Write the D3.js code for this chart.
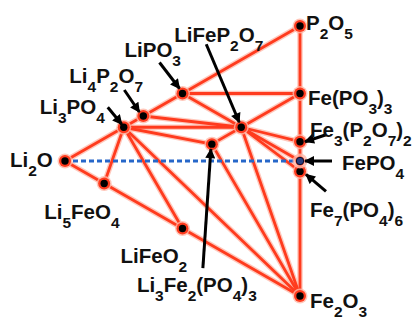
<!DOCTYPE html>
<html lang="en">
<head>
    <meta charset="UTF-8">
    <title>Li2O - Fe2O3 - P2O5 phase diagram</title>
    <script src="https://cdnjs.cloudflare.com/ajax/libs/d3/7.8.5/d3.min.js"></script>
    <style>
        body {
            margin: 0;
            background: #fff;
        }
        svg {
            display: block;
        }
        .tie {
            fill: none;
            stroke-linecap: round;
        }
        .label {
            font-family: "Liberation Sans", Arial, sans-serif;
            font-weight: bold;
            font-size: 20.5px;
            fill: #111;
        }
    </style>
</head>
<body>
    <svg width="416" height="320"></svg>
    <script>
        // compounds as moles of Li2O, Fe2O3, P2O5
        const compounds = ["Li2O", "Li5FeO4", "LiFeO2", "Fe2O3", "Fe7(PO4)6", "FePO4", "Fe3(P2O7)2",
            "Fe(PO3)3", "P2O5", "LiPO3", "Li4P2O7", "Li3PO4", "LiFeP2O7", "Li3Fe2(PO4)3"];
        const li2o  = [1, 2.5, 0.5, 0, 0,   0,   0,   0,   0, 0.5, 2, 1.5, 0.5, 1.5];
        const fe2o3 = [0, 0.5, 0.5, 1, 3.5, 0.5, 1.5, 0.5, 0, 0,   0, 0,   0.5, 1];
        const p2o5  = [0, 0,   0,   0, 3,   0.5, 2,   1.5, 1, 0.5, 1, 0.5, 1,   1.5];

        // tie lines between stable phases
        const ties = [
            ["Li2O", "Li5FeO4"], ["Li5FeO4", "LiFeO2"], ["LiFeO2", "Fe2O3"],
            ["Fe2O3", "Fe7(PO4)6"], ["Fe7(PO4)6", "FePO4"], ["FePO4", "Fe3(P2O7)2"],
            ["Fe3(P2O7)2", "Fe(PO3)3"], ["Fe(PO3)3", "P2O5"], ["P2O5", "LiPO3"],
            ["LiPO3", "Li4P2O7"], ["Li4P2O7", "Li3PO4"], ["Li3PO4", "Li2O"],
            ["Li3PO4", "Li5FeO4"], ["Li3PO4", "LiFeO2"], ["Li3PO4", "Fe2O3"],
            ["Li3PO4", "Li3Fe2(PO4)3"], ["Li3PO4", "LiFeP2O7"], ["Li4P2O7", "LiFeP2O7"],
            ["LiPO3", "LiFeP2O7"], ["LiPO3", "Fe(PO3)3"], ["LiFeP2O7", "Fe(PO3)3"],
            ["LiFeP2O7", "Fe3(P2O7)2"], ["LiFeP2O7", "FePO4"], ["LiFeP2O7", "Fe7(PO4)6"],
            ["LiFeP2O7", "Fe2O3"], ["LiFeP2O7", "Li3Fe2(PO4)3"], ["Li3Fe2(PO4)3", "Fe2O3"]
        ];
        const join = ["Li2O", "FePO4"];

        // label offsets from each point (text start, baseline)
        const labelPos = {
            "Li2O": [-55, 6], "Li5FeO4": [-60, 35], "LiFeO2": [-62, 34], "Fe2O3": [10, 12],
            "Fe7(PO4)6": [10, 46], "FePO4": [42, 9], "Fe3(P2O7)2": [10, -5], "Fe(PO3)3": [8, 11],
            "P2O5": [6, 4], "LiPO3": [-58, -37], "Li4P2O7": [-74, -33], "Li3PO4": [-84, -13],
            "LiFeP2O7": [-67, -85], "Li3Fe2(PO4)3": [-75, 148]
        };
        // arrow tails, relative to the point; the head sits next to the point
        const arrows = {
            "LiPO3": [[-23, -31], [-3, -5]], "Li4P2O7": [[-19, -26], [-4, -4]],
            "Li3PO4": [[-16, -20], [-2, -3]], "LiFeP2O7": [[-35, -83], [-2, -5]],
            "Li3Fe2(PO4)3": [[-9, 124], [-1, 5]], "Fe3(P2O7)2": [[26, -7], [5, 0]],
            "FePO4": [[32, 0], [5, 0]], "Fe7(PO4)6": [[26, 20], [6, 3]]
        };

        const svg = d3.select("svg");
        const x = d3.scaleLinear().domain([0, 1]).range([65, 300]);
        const y = d3.scaleLinear().domain([-1, 1]).range([296, 26]);

        const pts = {};
        compounds.forEach((name, i) => {
            const t = li2o[i] + fe2o3[i] + p2o5[i];
            const b = fe2o3[i] / t, c = p2o5[i] / t;
            pts[name] = { name, x: x(b + c), y: y(c - b) };
        });

        const tieG = svg.append("g");
        tieG.selectAll(".glow").data(ties).enter().append("line")
            .attr("class", "tie")
            .attr("x1", d => pts[d[0]].x).attr("y1", d => pts[d[0]].y)
            .attr("x2", d => pts[d[1]].x).attr("y2", d => pts[d[1]].y)
            .attr("stroke", "#ffb0a0").attr("stroke-width", 5.5).attr("opacity", 0.7);
        tieG.selectAll(".core").data(ties).enter().append("line")
            .attr("class", "tie")
            .attr("x1", d => pts[d[0]].x).attr("y1", d => pts[d[0]].y)
            .attr("x2", d => pts[d[1]].x).attr("y2", d => pts[d[1]].y)
            .attr("stroke", "#ff3b1e").attr("stroke-width", 2.8);

        svg.append("line")
            .attr("x1", pts[join[0]].x).attr("y1", pts[join[0]].y)
            .attr("x2", pts[join[1]].x).attr("y2", pts[join[1]].y)
            .attr("stroke", "#2667c9").attr("stroke-width", 3)
            .attr("stroke-dasharray", "5,3");

        const node = svg.selectAll(".node").data(Object.values(pts)).enter().append("g")
            .attr("transform", d => `translate(${d.x},${d.y})`);
        node.append("circle").attr("r", 7.5).attr("fill", "#ffb8a8").attr("opacity", 0.8);
        node.append("circle").attr("r", d => d.name === "FePO4" ? 4.5 : 6).attr("fill", "#ff3b1e");
        node.append("circle").attr("r", 3.7)
            .attr("fill", d => d.name === "FePO4" ? "#2a3f80" : "#000")
            .attr("stroke", d => d.name === "FePO4" ? "#0a0f2a" : "none").attr("stroke-width", 1);

        svg.append("defs").append("marker")
            .attr("id", "head").attr("markerUnits", "userSpaceOnUse")
            .attr("viewBox", "0 0 10 10").attr("refX", 9).attr("refY", 5)
            .attr("markerWidth", 11).attr("markerHeight", 10).attr("orient", "auto")
            .append("path").attr("d", "M0,0L10,5L0,10Z").attr("fill", "#000");

        svg.selectAll(".arrow").data(Object.entries(arrows)).enter().append("line")
            .attr("x1", d => pts[d[0]].x + d[1][0][0]).attr("y1", d => pts[d[0]].y + d[1][0][1])
            .attr("x2", d => pts[d[0]].x + d[1][1][0]).attr("y2", d => pts[d[0]].y + d[1][1][1])
            .attr("stroke", "#000").attr("stroke-width", 3)
            .attr("marker-end", "url(#head)");

        // formula text with subscript digits
        const lab = svg.selectAll(".label").data(Object.values(pts)).enter().append("text")
            .attr("class", "label")
            .attr("x", d => d.x + labelPos[d.name][0])
            .attr("y", d => d.y + labelPos[d.name][1]);
        lab.each(function (d) {
            const t = d3.select(this);
            const parts = d.name.match(/\d+|\D+/g);
            let sub = false;
            parts.forEach(p => {
                const isNum = /\d/.test(p);
                const s = t.append("tspan").text(p);
                if (isNum && !sub) { s.attr("dy", 9).attr("font-size", 15.5); sub = true; }
                else if (isNum) { s.attr("font-size", 15.5); }
                else if (sub) { s.attr("dy", -9); sub = false; }
            });
        });
    </script>
</body>
</html>
